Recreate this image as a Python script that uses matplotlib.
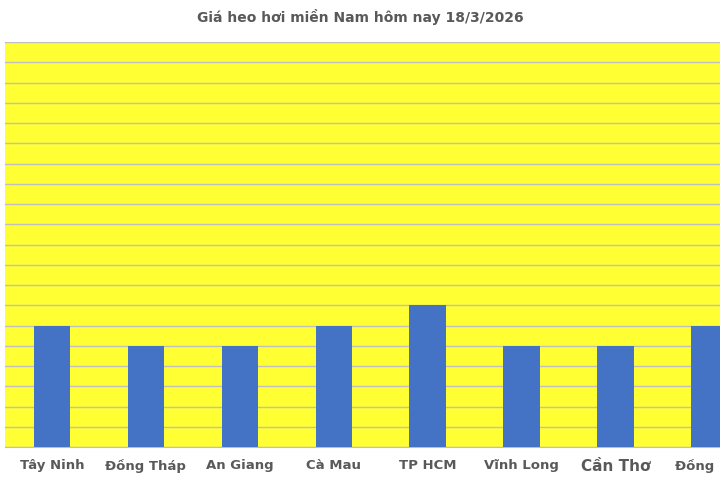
import matplotlib.pyplot as plt

provinces = ["Tây Ninh", "Đồng Tháp", "An Giang", "Cà Mau", "TP HCM",
             "Vĩnh Long", "Cần Thơ", "Đồng Nai"]
prices = [6, 5, 5, 6, 7, 5, 5, 6]

fig = plt.figure(figsize=(7.2, 4.8), dpi=100)
ax = fig.add_axes([5 / 720, 33 / 480, 715 / 720, 405 / 480])
ax.set_facecolor("#FFFF33")
ax.set_axisbelow(True)

ax.bar(range(len(provinces)), prices, width=0.39, color="#4472C4", zorder=3)
ax.set_ylim(0, 20)
ax.set_xlim(-0.5, 7.11)
ax.set_yticks(range(0, 21))
ax.yaxis.grid(True, color="#BFBFBF", linewidth=1, zorder=0)
ax.tick_params(axis="y", left=False, labelleft=False)
ax.tick_params(axis="x", bottom=False, pad=5)
ax.set_xticks(range(len(provinces)))
ax.set_xticklabels(provinces, fontsize=9.5, fontweight="bold", color="#595959")
ax.get_xticklabels()[6].set_fontsize(11)
for s in ax.spines.values():
    s.set_visible(False)
ax.spines["bottom"].set_visible(True)
ax.spines["bottom"].set_color("#BFBFBF")

fig.text(0.5, 0.965, "Giá heo hơi miền Nam hôm nay 18/3/2026", ha="center",
         va="center", fontsize=10, fontweight="semibold", color="#595959")

fig.savefig("out.png", dpi=100)
